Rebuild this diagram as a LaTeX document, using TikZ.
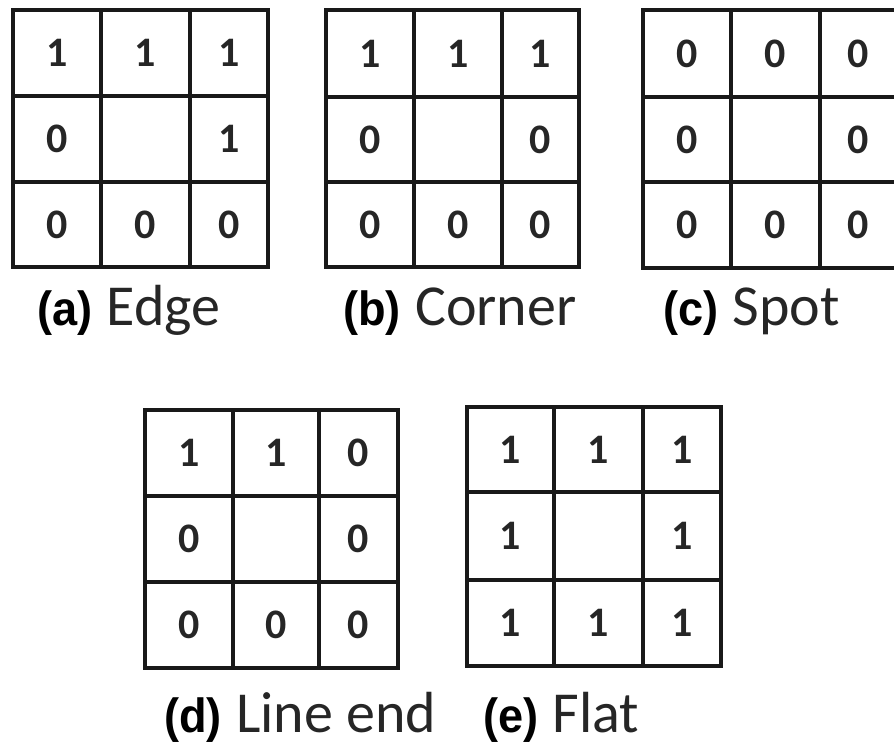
\documentclass[tikz,border=0pt]{standalone}
\usepackage{fontspec}
\setmainfont{Carlito}
\newfontfamily\tagfont[FakeStretch=0.94]{Liberation Sans}
\begin{document}
\begin{tikzpicture}[x=1pt,y=-1pt,
  gridline/.style={line width=3.5pt,black!90,line cap=rect},
  digit/.style={font=\fontsize{42}{42}\selectfont\bfseries,text=black!85,inner sep=0pt},
  tag/.style={anchor=base west,inner sep=0pt,font=\fontsize{48}{48}\selectfont\tagfont\bfseries},
  capt/.style={anchor=base west,inner sep=0pt,font=\fontsize{58}{58}\selectfont,text=black!85}]
\useasboundingbox (0,0) rectangle (894,746);
\newcommand\mygrid[9]{%
  \draw[gridline] (#1,#5) rectangle (#4,#8);
  \draw[gridline] (#2,#5) -- (#2,#8) (#3,#5) -- (#3,#8) (#1,#6) -- (#4,#6) (#1,#7) -- (#4,#7);
  \path ({(#1+#2)/2},{(#5+#6)/2}) coordinate (#9-11)
        ({(#2+#3)/2},{(#5+#6)/2}) coordinate (#9-12)
        ({(#3+#4)/2},{(#5+#6)/2}) coordinate (#9-13)
        ({(#1+#2)/2},{(#6+#7)/2}) coordinate (#9-21)
        ({(#3+#4)/2},{(#6+#7)/2}) coordinate (#9-23)
        ({(#1+#2)/2},{(#7+#8)/2}) coordinate (#9-31)
        ({(#2+#3)/2},{(#7+#8)/2}) coordinate (#9-32)
        ({(#3+#4)/2},{(#7+#8)/2}) coordinate (#9-33);
}
\newcommand\mydigits[9]{%
  \node[digit] (#1d11) at (#1-11) {#2};
  \node[digit] (#1d12) at (#1-12) {#3};
  \node[digit] (#1d13) at (#1-13) {#4};
  \node[digit] (#1d21) at (#1-21) {#5};
  \node[digit] (#1d23) at (#1-23) {#6};
  \node[digit] (#1d31) at (#1-31) {#7};
  \node[digit] (#1d32) at (#1-32) {#8};
  \node[digit] (#1d33) at (#1-33) {#9};
}
% (a) Edge
\mygrid{13}{101}{190}{268}{10}{96}{182}{267}{ga}
\mydigits{ga}{1}{1}{1}{0}{1}{0}{0}{0}
% (b) Corner
\mygrid{326}{414}{502}{579}{10}{97}{182}{267}{gb}
\mydigits{gb}{1}{1}{1}{0}{0}{0}{0}{0}
% (c) Spot
\mygrid{643}{731}{820}{897}{10}{97}{182}{268}{gc}
\mydigits{gc}{0}{0}{0}{0}{0}{0}{0}{0}
% (d) Line end
\mygrid{145}{233}{319}{398}{410}{496}{582}{668}{gd}
\mydigits{gd}{1}{1}{0}{0}{0}{0}{0}{0}
% (e) Flat
\mygrid{467}{554}{643}{721}{407}{492}{580}{666}{ge}
\mydigits{ge}{1}{1}{1}{1}{1}{1}{1}{1}
% captions
\node[tag]  (ta) at (37,325)  {(a)};
\node[capt] (ca) at ([xshift=14pt]ta.base east) {Edge};
\node[tag]  (tb) at (343,325) {(b)};
\node[capt] (cb) at ([xshift=14pt]tb.base east) {Corner};
\node[tag]  (tc) at (663,325) {(c)};
\node[capt] (cc) at ([xshift=14pt]tc.base east) {Spot};
\node[tag]  (td) at (164,732) {(d)};
\node[capt] (cd) at ([xshift=14pt]td.base east) {Line end};
\node[tag]  (te) at (483,732) {(e)};
\node[capt] (ce) at ([xshift=14pt]te.base east) {Flat};
\end{tikzpicture}
\end{document}
